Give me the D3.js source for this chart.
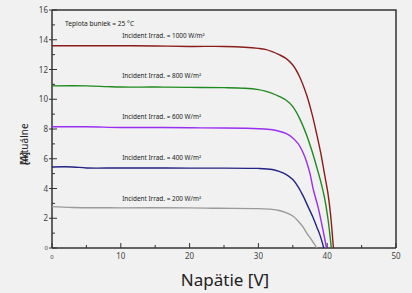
<!DOCTYPE html>
<html><head><meta charset="utf-8">
<script src="https://cdn.jsdelivr.net/npm/d3@7/dist/d3.min.js"></script>
<style>body{margin:0;background:#f0f1f0;}svg{display:block;font-family:"Noto Sans","Open Sans",sans-serif;}</style>
</head><body><svg id="c" width="412" height="293"></svg>
<script>
const xTicks = [0,10,20,30,40,50];
const yTicks = [0,2,4,6,8,10,12,14,16];
const labels = ["Incident Irrad. = 1000 W/m²","Incident Irrad. = 800 W/m²","Incident Irrad. = 600 W/m²","Incident Irrad. = 400 W/m²","Incident Irrad. = 200 W/m²"];
const labelY = [14.1, 11.43, 8.64, 5.92, 3.16];
const colors = ["#8b1c1c","#1f8a1f","#9a2ff0","#232384","#9a9a9a"];
const s1000 = [[0,13.6],[5,13.6],[10,13.6],[15,13.58],[20,13.55],[25,13.55],[28,13.5],[30,13.42],[31,13.35],[32,13.2],[33,13.0],[34,12.75],[35,12.3],[36,11.5],[37,10.3],[37.8,9.0],[38.5,7.6],[39.1,6.3],[39.6,5.0],[40.1,3.7],[40.5,2.2],[40.9,0]];
const s800 = [[0,10.9],[5,10.9],[8,10.85],[10,10.82],[15,10.82],[20,10.8],[25,10.78],[28,10.74],[30,10.65],[31,10.55],[32,10.4],[33,10.2],[34,9.95],[35,9.5],[36,8.7],[37,7.6],[37.8,6.5],[38.5,5.4],[39.1,4.4],[39.6,3.4],[40.1,2.0],[40.6,0]];
const s600 = [[0,8.15],[5,8.15],[10,8.1],[15,8.1],[20,8.08],[25,8.07],[28,8.05],[30,8.02],[32,7.95],[33,7.85],[34,7.7],[35,7.4],[35.8,7.0],[36.5,6.4],[37,5.8],[37.5,5.0],[38,3.9],[38.7,2.7],[39.3,1.4],[39.9,0]];
const s400 = [[0,5.45],[3,5.45],[5,5.38],[10,5.38],[20,5.37],[30,5.35],[32,5.28],[33,5.15],[34,4.95],[35,4.6],[35.8,4.1],[36.5,3.5],[37.2,2.8],[37.9,2.1],[38.5,1.4],[39.0,0.8],[39.5,0]];
const s200 = [[0,2.78],[3,2.72],[10,2.7],[20,2.7],[24,2.67],[30,2.65],[32,2.6],[33,2.52],[34,2.38],[35,2.15],[35.8,1.8],[36.5,1.4],[37.1,0.95],[37.8,0.5],[38.5,0]];
const series = [s1000,s800,s600,s400,s200];

const svg = d3.select("#c");
const x = d3.scaleLinear().domain([0,50]).range([52,396]);
const y = d3.scaleLinear().domain([0,16]).range([248,10]);

svg.append("path").attr("d",`M${x(0)},${y(16)}H${x(50)}V${y(0)}`).attr("fill","none").attr("stroke","#333").attr("stroke-width",1.5);

const ax = svg.append("g");
ax.append("line").attr("x1",x(0)).attr("x2",x(50)).attr("y1",y(0)).attr("y2",y(0)).attr("stroke","#333").attr("stroke-width",1.5);
d3.range(0,51,5).forEach(v=>{
  const major = v%10===0;
  ax.append("line").attr("x1",x(v)).attr("x2",x(v)).attr("y1",y(0)).attr("y2",y(0)-(major?5:3)).attr("stroke","#333").attr("stroke-width",1);
});
xTicks.forEach(v=>{
  ax.append("text").attr("x",x(v)).attr("y",259).attr("text-anchor","middle")
    .attr("font-size",v===0?6:8).attr("fill","#444").text(v);
});
const ay = svg.append("g");
ay.append("line").attr("x1",x(0)).attr("x2",x(0)).attr("y1",y(0)).attr("y2",y(16)).attr("stroke","#333").attr("stroke-width",1.5);
d3.range(0,17,1).forEach(v=>{
  const major = v%2===0;
  ay.append("line").attr("x1",x(0)-(major?3:0)).attr("x2",x(0)+(major?5:3)).attr("y1",y(v)).attr("y2",y(v)).attr("stroke","#333").attr("stroke-width",1);
});
yTicks.forEach(v=>{
  ay.append("text").attr("x",48).attr("y",y(v)+(v===0?2:3)).attr("text-anchor","end")
    .attr("font-size",v===0?6:8).attr("fill","#444").text(v);
});

const lineX = d3.line().x(d=>x(d[0])).y(d=>y(d[1])).curve(d3.curveCatmullRom.alpha(0.5));
series.forEach((s,i)=>{
  svg.append("path").attr("d",lineX(s)).attr("fill","none").attr("stroke",colors[i]).attr("stroke-width",1.4);
  svg.append("text").attr("x",x(10.2)).attr("y",y(labelY[i])).attr("font-size",6.4).attr("fill","#222").text(labels[i]);
});
svg.append("text").attr("x",65).attr("y",26).attr("font-size",6.6).attr("fill","#222").text("Teplota buniek = 25 °C");

svg.append("text").attr("x",225).attr("y",286).attr("text-anchor","middle").attr("font-size",17).attr("fill","#222").text("Napätie [V]");
svg.append("text").attr("transform","translate(28,165) rotate(-90)").attr("font-size",10).attr("fill","#222").text("Aktuálne");
svg.append("text").attr("transform","translate(28,165) rotate(-90)").attr("font-size",10).attr("fill","#222").text("[A]");
</script></body></html>
